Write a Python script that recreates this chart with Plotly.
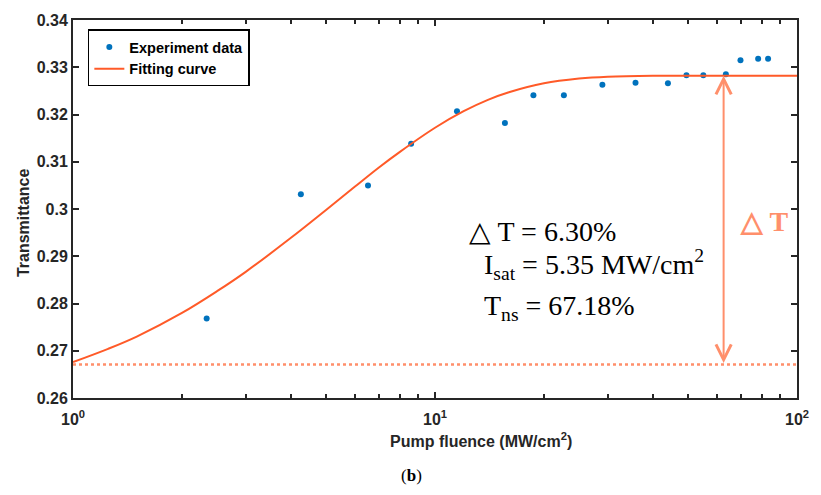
import math
import plotly.graph_objects as go

# ---- data ----
exp_fluence = [2.34, 4.26, 6.53, 8.59, 11.5, 15.6, 18.7, 22.7, 29.0, 35.8, 44.0, 49.5, 55.1, 63.6, 69.8, 78.1, 83.2]
exp_trans = [0.2768, 0.3031, 0.3050, 0.3138, 0.3207, 0.3182, 0.3241, 0.3241, 0.3263, 0.3267, 0.3266,
             0.3283, 0.3283, 0.3285, 0.3315, 0.3318, 0.3318]

fit_fluence = [1, 1.25, 1.5, 2, 2.5, 3, 4, 5, 6, 7, 8, 10, 12, 14, 16, 20, 25, 30, 40, 60, 100]
fit_trans = [0.2676, 0.2704, 0.2730, 0.2780, 0.2826, 0.2867, 0.2939, 0.2998, 0.3047, 0.3088, 0.3121,
             0.3172, 0.3207, 0.3231, 0.3247, 0.3266, 0.3276, 0.3280, 0.3282, 0.3282, 0.3282]

t_min = 0.2671          # dotted baseline
t_sat = 0.3282          # saturated transmittance
arrow_x = 62.7          # fluence where the delta-T arrow is drawn

y_ticks = [0.26, 0.27, 0.28, 0.29, 0.30, 0.31, 0.32, 0.33, 0.34]
y_ticktext = ["0.26", "0.27", "0.28", "0.29", "0.3", "0.31", "0.32", "0.33", "0.34"]
x_ticks = [1, 10, 100]
x_ticktext = ["10<sup>0</sup>", "10<sup>1</sup>", "10<sup>2</sup>"]
x_minor = [2, 3, 4, 5, 6, 7, 8, 9, 20, 30, 40, 50, 60, 70, 80, 90]

BLUE = "#0072BD"
ORANGE = "#FF5A28"
SALMON = "#FF8F6B"
AX = "#262626"

fig = go.Figure()
fig.add_trace(go.Scatter(x=exp_fluence, y=exp_trans, mode="markers", name="Experiment data",
                         marker=dict(color=BLUE, size=6)))
fig.add_trace(go.Scatter(x=fit_fluence, y=fit_trans, mode="lines", name="Fitting curve",
                         line=dict(color=ORANGE, width=2, shape="spline")))

# dotted baseline
fig.add_shape(type="line", xref="paper", yref="y", x0=0, x1=1, y0=t_min, y1=t_min,
              line=dict(color=SALMON, width=2.5, dash="3px,3px"))

# double-headed arrow
fig.add_annotation(x=math.log10(arrow_x), y=t_sat, ax=math.log10(arrow_x), ay=t_min,
                   xref="x", yref="y", axref="x", ayref="y", text="", showarrow=True,
                   arrowhead=5, startarrowhead=5, arrowside="end+start", arrowsize=1.5,
                   startarrowsize=1.5, arrowwidth=2, arrowcolor=SALMON)

serif = "Liberation Serif"
fig.add_annotation(xref="paper", yref="paper", x=0.919, y=0.468, xanchor="left", yanchor="middle",
                   text="<b>△ T</b>", showarrow=False, font=dict(family=serif, size=28, color=SALMON))

fig.add_annotation(xref="paper", yref="paper", x=0.5443, y=0.440, xanchor="left", yanchor="middle",
                   text="△ T = 6.30%", showarrow=False, font=dict(family=serif, size=28, color="black"))
fig.add_annotation(xref="paper", yref="paper", x=0.5648, y=0.352, xanchor="left", yanchor="middle",
                   text="I<sub>sat</sub> = 5.35 MW/cm<sup>2</sup>", showarrow=False,
                   font=dict(family=serif, size=28, color="black"))
fig.add_annotation(xref="paper", yref="paper", x=0.5648, y=0.240, xanchor="left", yanchor="middle",
                   text="T<sub>ns</sub> = 67.18%", showarrow=False,
                   font=dict(family=serif, size=28, color="black"))

# axis titles
fig.add_annotation(xref="paper", yref="paper", x=-0.0675, y=0.463, xanchor="center", yanchor="middle",
                   text="Transmittance", textangle=-90, showarrow=False,
                   font=dict(family="Arial", size=16, color=AX, weight="bold"))
fig.add_annotation(xref="paper", yref="paper", x=0.5634, y=-0.110, xanchor="center", yanchor="middle",
                   text="Pump fluence (MW/cm<sup>2</sup>)", showarrow=False,
                   font=dict(family="Arial", size=16, color=AX, weight="bold"))
fig.add_annotation(xref="paper", yref="paper", x=0.468, y=-0.205, xanchor="center", yanchor="middle",
                   text="(<b>b</b>)", showarrow=False,
                   font=dict(family=serif, size=17, color="black"))

fig.update_xaxes(type="log", range=[0, 2], tickvals=x_ticks, ticktext=x_ticktext,
                 showline=True, linecolor=AX, linewidth=2, mirror="ticks",
                 ticks="inside", ticklen=6, tickwidth=1.5, tickcolor=AX, showgrid=False, zeroline=False,
                 ticklabelstandoff=6,
                 tickfont=dict(family="Arial", size=16, color=AX, weight="bold"),
                 minor=dict(tickvals=x_minor, ticks="inside", ticklen=4, tickwidth=1.5, tickcolor=AX, showgrid=False))
fig.update_yaxes(range=[0.26, 0.34], tickvals=y_ticks, ticktext=y_ticktext,
                 showline=True, linecolor=AX, linewidth=2, mirror="ticks",
                 ticks="inside", ticklen=6, tickwidth=1.5, tickcolor=AX, showgrid=False, zeroline=False,
                 tickfont=dict(family="Arial", size=16, color=AX, weight="bold"))

fig.update_layout(width=821, height=495, margin=dict(l=73, r=15, t=16, b=97),
                  paper_bgcolor="white", plot_bgcolor="white", showlegend=True,
                  legend=dict(x=0.0205, y=0.975, xanchor="left", yanchor="top",
                              bordercolor="black", borderwidth=1.5, bgcolor="white",
                              font=dict(family="Arial", size=14.5, color="black", weight="bold")))

fig.write_html("out.html")
